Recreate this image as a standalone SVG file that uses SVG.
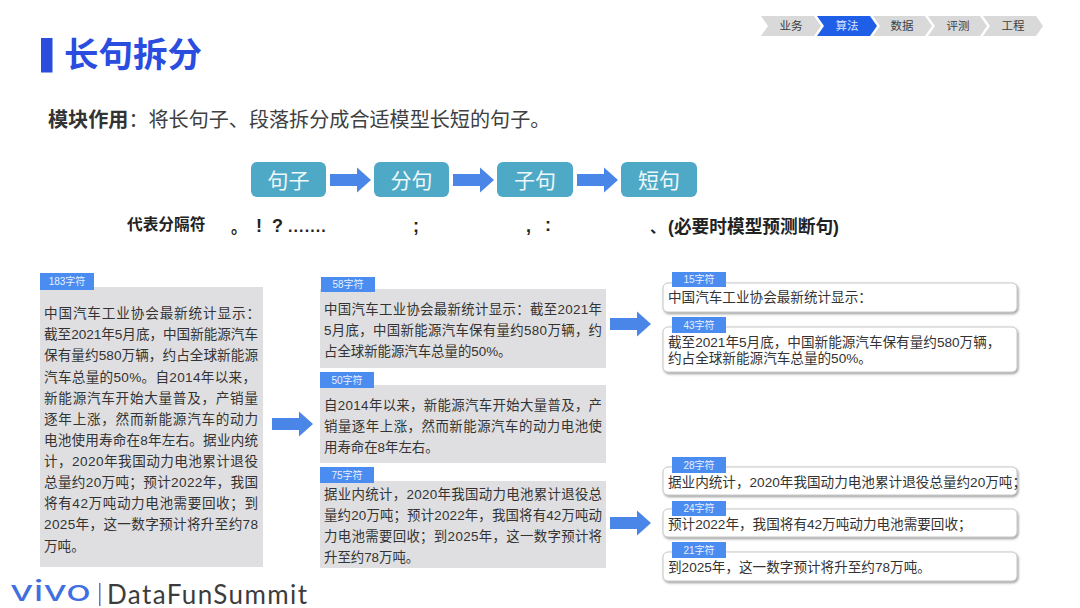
<svg xmlns="http://www.w3.org/2000/svg" width="1080" height="608" viewBox="0 0 1080 608">
<defs>
<filter id="sh" x="-5%" y="-20%" width="110%" height="150%"><feDropShadow dx="1" dy="1.5" stdDeviation="1" flood-color="#555" flood-opacity="0.6"/></filter>
<polygon id="arrow" points="0,-6 27,-6 27,-12.5 41,0 27,12.5 27,6 0,6" fill="#4a86e8"/>
</defs>
<style>
text{font-family:"Liberation Sans","Noto Sans CJK SC",sans-serif}
.flow{fill:#4ea9c6}
.ft{font-size:21px;fill:#eef8fb;text-anchor:middle}
.chev{fill:#d9d9d9}
.cht{font-size:11.5px;fill:#404040;text-anchor:middle}
.gbox{fill:#dfdfe1}
.tag{fill:#4a8cf0}
.tt{font-size:10px;fill:#e8f0ff;text-anchor:middle}
.l{font-size:13.6px;fill:#333}
.m{font-size:13.4px;fill:#333}
.r{font-size:13.6px;fill:#333}
.wbox{fill:#fff;stroke:#c8c8c8;stroke-width:1;filter:url(#sh)}
.sep{font-size:15.7px;font-weight:700;fill:#222}
.p{font-size:18px;font-weight:700;fill:#222}
</style>
<rect width="1080" height="608" fill="#fff"/>
<g id="title">
<rect x="41" y="38" width="11.500" height="34.500" fill="#2a4de0"/>
<text x="64" y="67" font-size="34.500" font-weight="700" fill="#2a4de0">长句拆分</text>
</g>
<g id="nav">
<polygon class="chev" points="761,16 814,16 821,26 814,36 761,36 768,26"/>
<text class="cht" x="791" y="30">业务</text>
<polygon points="817,16 870,16 877,26 870,36 817,36 824,26" fill="#1f5fe8"/>
<text class="cht" x="847" y="30" style="fill:#d8e6ff">算法</text>
<polygon class="chev" points="873,16 925,16 932,26 925,36 873,36 880,26"/>
<text class="cht" x="902" y="30">数据</text>
<polygon class="chev" points="928,16 980,16 987,26 980,36 928,36 935,26"/>
<text class="cht" x="958" y="30">评测</text>
<polygon class="chev" points="983,16 1036,16 1043,26 1036,36 983,36 990,26"/>
<text class="cht" x="1013" y="30">工程</text>
</g>
<text id="intro" x="48" y="127" font-size="20.100" fill="#404040"><tspan font-weight="700" fill="#333">模块作用</tspan>：将长句子、段落拆分成合适模型长短的句子。</text>
<g id="node-juzi"><rect class="flow" x="251" y="162" width="75" height="35" rx="6"/><text class="ft" x="288.500" y="187.500">句子</text></g>
<g id="node-fenju"><rect class="flow" x="374" y="162" width="75" height="35" rx="6"/><text class="ft" x="411.500" y="187.500">分句</text></g>
<g id="node-ziju"><rect class="flow" x="497" y="162" width="76" height="35" rx="6"/><text class="ft" x="535" y="187.500">子句</text></g>
<g id="node-duanju"><rect class="flow" x="621" y="162" width="76" height="35" rx="6"/><text class="ft" x="659" y="187.500">短句</text></g>
<g id="connectors">
<use href="#arrow" x="330" y="180"/>
<use href="#arrow" x="453" y="180"/>
<use href="#arrow" x="577" y="180"/>
<use href="#arrow" x="272" y="424"/>
<use href="#arrow" x="610" y="324"/>
<use href="#arrow" x="610" y="523"/>
</g>
<g id="separators">
<text class="sep" x="127" y="229.500">代表分隔符</text>
<text class="sep" x="231" y="232.500">。</text>
<text class="p" x="256" y="232">!</text>
<text class="p" x="272" y="232">?</text>
<text class="p" x="288" y="232" style="font-size:16px;letter-spacing:1.100px">.......</text>
<text class="p" x="413" y="232">;</text>
<text class="p" x="526" y="232">,</text>
<text class="p" x="545" y="231">:</text>
<text class="p" x="650" y="233" style="font-size:15.7px">、</text>
<text class="p" x="668" y="233" style="font-size:17.700px">(必要时模型预测断句)</text>
</g>
<g id="source">
<rect class="gbox" x="40" y="287" width="223" height="280"/>
<rect class="tag" x="40" y="273" width="54" height="17"/><text class="tt" x="67" y="285">183字符</text>
<text class="l" x="44" y="318" textLength="216">中国汽车工业协会最新统计显示：</text>
<text class="l" x="44" y="339" textLength="214">截至2021年5月底，中国新能源汽车</text>
<text class="l" x="44" y="360" textLength="214">保有量约580万辆，约占全球新能源</text>
<text class="l" x="44" y="382" textLength="212">汽车总量的50%。自2014年以来，</text>
<text class="l" x="44" y="403" textLength="214">新能源汽车开始大量普及，产销量</text>
<text class="l" x="44" y="424" textLength="214">逐年上涨，然而新能源汽车的动力</text>
<text class="l" x="44" y="445" textLength="214">电池使用寿命在8年左右。据业内统</text>
<text class="l" x="44" y="466" textLength="214">计，2020年我国动力电池累计退役</text>
<text class="l" x="44" y="487" textLength="214">总量约20万吨；预计2022年，我国</text>
<text class="l" x="44" y="508" textLength="214">将有42万吨动力电池需要回收；到</text>
<text class="l" x="44" y="529" textLength="214">2025年，这一数字预计将升至约78</text>
<text class="l" x="44" y="551">万吨。</text>
</g>
<g id="para-1">
<rect class="gbox" x="320" y="289" width="286" height="79"/>
<rect class="tag" x="321" y="277" width="54" height="15"/><text class="tt" x="348" y="288">58字符</text>
<text class="m" x="324" y="314" textLength="278">中国汽车工业协会最新统计显示：截至2021年</text>
<text class="m" x="324" y="335" textLength="278">5月底，中国新能源汽车保有量约580万辆，约</text>
<text class="m" x="324" y="356">占全球新能源汽车总量的50%。</text>
</g>
<g id="para-2">
<rect class="gbox" x="320" y="385" width="286" height="78"/>
<rect class="tag" x="320" y="372" width="54" height="16"/><text class="tt" x="347" y="384">50字符</text>
<text class="m" x="324" y="410" textLength="278">自2014年以来，新能源汽车开始大量普及，产</text>
<text class="m" x="324" y="431" textLength="278">销量逐年上涨，然而新能源汽车的动力电池使</text>
<text class="m" x="324" y="452">用寿命在8年左右。</text>
</g>
<g id="para-3">
<rect class="gbox" x="320" y="481" width="286" height="87"/>
<rect class="tag" x="320" y="467" width="54" height="16"/><text class="tt" x="347" y="479">75字符</text>
<text class="m" x="324" y="499" textLength="278">据业内统计，2020年我国动力电池累计退役总</text>
<text class="m" x="324" y="520" textLength="278">量约20万吨；预计2022年，我国将有42万吨动</text>
<text class="m" x="324" y="541" textLength="278">力电池需要回收；到2025年，这一数字预计将</text>
<text class="m" x="324" y="562">升至约78万吨。</text>
</g>
<g id="short-1">
<rect class="wbox" x="663" y="283" width="354" height="29" rx="5"/>
<rect class="tag" x="672" y="272" width="54" height="15"/><text class="tt" x="699" y="283">15字符</text>
<text class="r" x="668" y="302">中国汽车工业协会最新统计显示：</text>
</g>
<g id="short-2">
<rect class="wbox" x="663" y="327" width="354" height="45" rx="5"/>
<rect class="tag" x="672" y="317" width="54" height="16"/><text class="tt" x="699" y="329">43字符</text>
<text class="r" y="347"><tspan x="668">截至2021年5月底，中国新能源汽车保有量约580万辆，</tspan><tspan x="668" dy="16">约占全球新能源汽车总量的50%。</tspan></text>
</g>
<g id="short-3">
<rect class="wbox" x="663" y="467" width="354" height="28" rx="5"/>
<rect class="tag" x="672" y="457" width="54" height="16"/><text class="tt" x="699" y="469">28字符</text>
<text class="r" x="668" y="487">据业内统计，2020年我国动力电池累计退役总量约20万吨；</text>
</g>
<g id="short-4">
<rect class="wbox" x="663" y="509" width="354" height="28" rx="5"/>
<rect class="tag" x="672" y="501" width="54" height="15"/><text class="tt" x="699" y="512">24字符</text>
<text class="r" x="668" y="529">预计2022年，我国将有42万吨动力电池需要回收；</text>
</g>
<g id="short-5">
<rect class="wbox" x="663" y="552" width="354" height="29" rx="5"/>
<rect class="tag" x="672" y="542" width="54" height="16"/><text class="tt" x="699" y="554">21字符</text>
<text class="r" x="668" y="572">到2025年，这一数字预计将升至约78万吨。</text>
</g>
<g id="logo">
<text x="10" y="601" textLength="81" lengthAdjust="spacingAndGlyphs" style="font-family:'Inter',sans-serif;font-size:29px;font-weight:400" fill="#3f6fe0">vivo</text>
<rect x="99" y="583" width="1.500" height="23" fill="#4a80e0"/>
<text x="107" y="604" textLength="200" style="font-family:'Lato',sans-serif;font-size:26px;font-weight:400" fill="#3c3c3c">DataFunSummit</text>
</g>
</svg>
